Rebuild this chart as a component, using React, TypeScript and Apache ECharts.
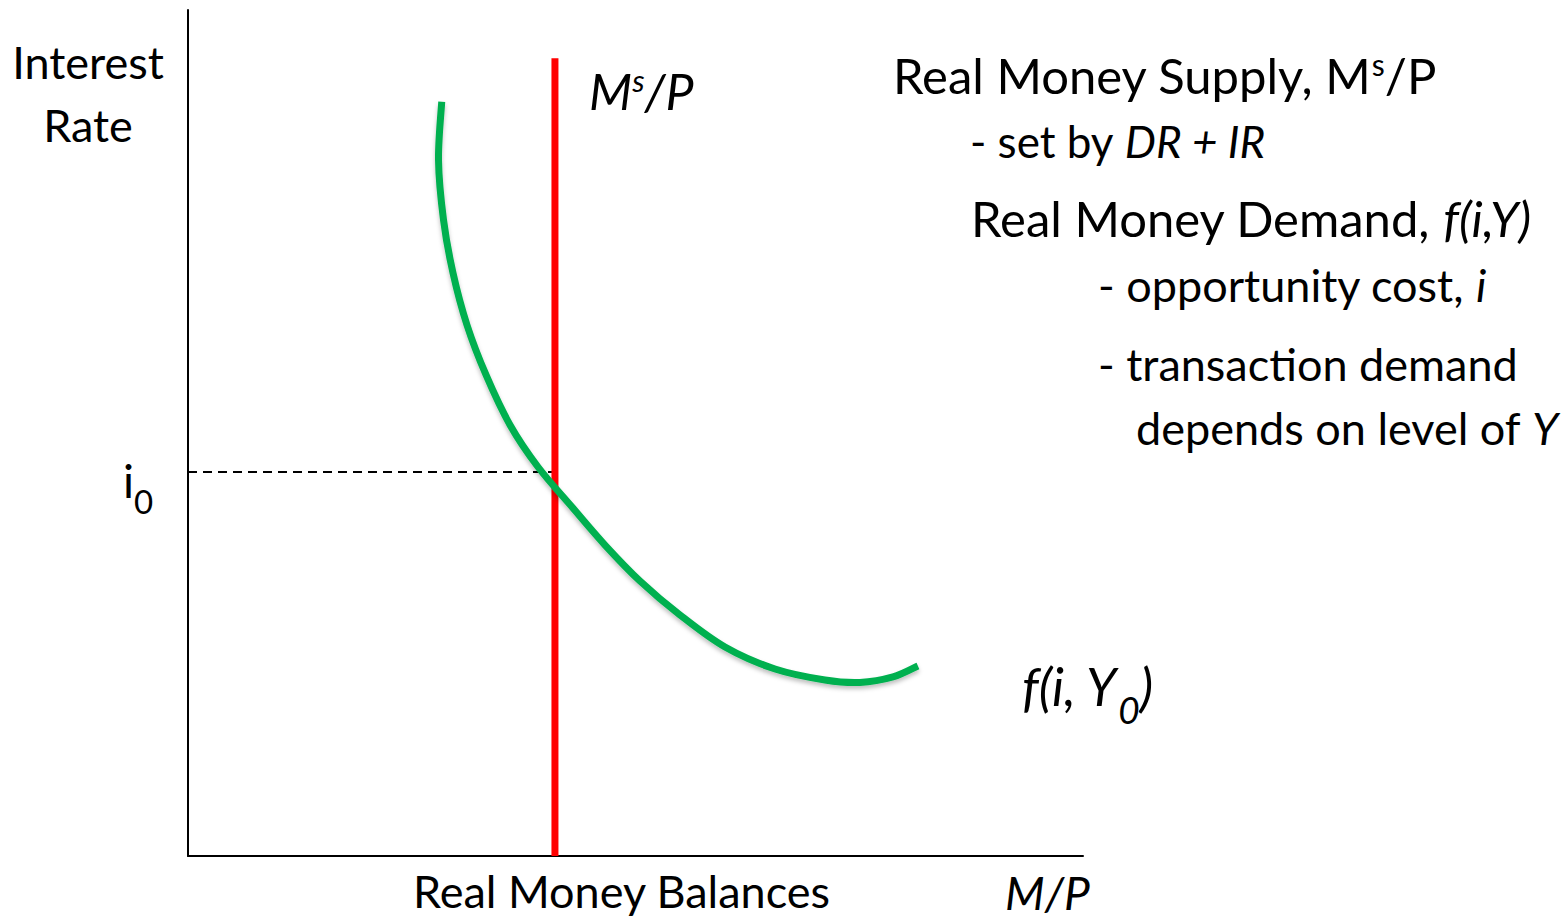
import React, { useEffect, useRef } from "react";
import * as echarts from "echarts";

// Money-market diagram data (x: real money balances, y: interest rate), axis range 0..100
const supplyX = [41, 41];
const supplyY = [0, 94.3];
const equilibriumRate = 45.4;
const equilibriumX = 41;
const demandX = [28.35, 27.99, 28.55, 29.61, 31.17, 33.3, 35.98, 39.11, 42.91, 46.59, 50.5, 54.97, 60.0, 65.59, 71.17, 75.08, 78.77, 81.56];
const demandY = [89.16, 82.27, 75.18, 68.91, 62.77, 56.86, 50.95, 45.98, 41.25, 36.76, 32.51, 28.49, 24.7, 22.1, 20.8, 20.51, 21.16, 22.46];

const FONT = "Lato, 'Open Sans', sans-serif";

function mkRich(fs: number) {
  const lh = Math.round(fs * 1.2);
  return {
    n: { fontFamily: FONT, fontSize: fs, lineHeight: lh, verticalAlign: "middle" },
    it: { fontFamily: FONT, fontSize: fs, fontStyle: "italic", lineHeight: lh, verticalAlign: "middle" },
    sup: { fontFamily: FONT, fontSize: Math.round(fs * 0.62), lineHeight: lh, verticalAlign: "top", padding: [Math.round(fs * 0.06), 0, 0, 0] },
    supit: { fontFamily: FONT, fontSize: Math.round(fs * 0.62), fontStyle: "italic", lineHeight: lh, verticalAlign: "top", padding: [Math.round(fs * 0.06), 0, 0, 0] },
    sub: { fontFamily: FONT, fontSize: Math.round(fs * 0.72), lineHeight: lh, verticalAlign: "bottom", padding: [0, 0, -Math.round(fs * 0.22), 0] },
    subit: { fontFamily: FONT, fontSize: Math.round(fs * 0.72), fontStyle: "italic", lineHeight: lh, verticalAlign: "bottom", padding: [0, 0, -Math.round(fs * 0.22), 0] },
  };
}

// Catmull-Rom path through pixel points (rendering only)
function smoothPath(pts: number[][]): string {
  if (pts.length < 2) return "";
  let d = `M${pts[0][0]},${pts[0][1]}`;
  for (let i = 0; i < pts.length - 1; i++) {
    const p0 = pts[i - 1] || pts[i];
    const p1 = pts[i];
    const p2 = pts[i + 1];
    const p3 = pts[i + 2] || p2;
    const c1x = p1[0] + (p2[0] - p0[0]) / 6;
    const c1y = p1[1] + (p2[1] - p0[1]) / 6;
    const c2x = p2[0] - (p3[0] - p1[0]) / 6;
    const c2y = p2[1] - (p3[1] - p1[1]) / 6;
    d += ` C${c1x},${c1y} ${c2x},${c2y} ${p2[0]},${p2[1]}`;
  }
  return d;
}

export default function App() {
  const ref = useRef<HTMLDivElement>(null);
  useEffect(() => {
    if (!ref.current) return;
    const chart = echarts.init(ref.current, null, { renderer: "svg" });
    const txt = (x: number, y: number, text: string, fs: number, extra: any = {}) => ({
      type: "text",
      x,
      y,
      style: {
        fontFamily: FONT,
        fontSize: fs,
        fill: "#000",
        verticalAlign: "middle",
        align: "left",
        text,
        rich: mkRich(fs),
        ...extra,
      },
    });
    const demandData = demandX.map((x, i) => [x, demandY[i]]);
    chart.setOption({
      animation: false,
      backgroundColor: "#fff",
      grid: { left: 188, top: 10, width: 895, height: 846 },
      xAxis: {
        type: "value",
        min: 0,
        max: 100,
        axisLine: { show: true, onZero: false, lineStyle: { color: "#000", width: 2 } },
        axisTick: { show: false },
        axisLabel: { show: false },
        splitLine: { show: false },
      },
      yAxis: {
        type: "value",
        min: 0,
        max: 100,
        axisLine: { show: true, onZero: false, lineStyle: { color: "#000", width: 2 } },
        axisTick: { show: false },
        axisLabel: { show: false },
        splitLine: { show: false },
      },
      series: [
        {
          type: "line",
          data: [[0, equilibriumRate], [equilibriumX, equilibriumRate]],
          symbol: "none",
          lineStyle: { color: "#000", width: 2, type: [9, 6] },
          z: 1,
        },
        {
          type: "line",
          data: supplyX.map((x, i) => [x, supplyY[i]]),
          symbol: "none",
          lineStyle: { color: "#FF0000", width: 7 },
          z: 2,
        },
        {
          type: "custom",
          data: demandData,
          encode: { x: 0, y: 1 },
          z: 3,
          renderItem: (params: any, api: any) => {
            if (params.dataIndex !== 0) return null;
            const pts = demandData.map((p) => api.coord(p));
            return {
              type: "path",
              shape: { pathData: smoothPath(pts) },
              style: {
                fill: "none",
                stroke: "#00B050",
                lineWidth: 7,
                shadowColor: "rgba(0,0,0,0.25)",
                shadowBlur: 4,
                shadowOffsetY: 3,
              },
            };
          },
        },
      ],
      graphic: [
        txt(88, 93, "Interest\nRate", 45, { align: "center", lineHeight: 63 }),
        txt(123, 480, "{n|i}{sub|0}", 46),
        txt(589, 91, "{it|M}{supit|s}{it|/P}", 50),
        txt(893, 75, "{n|Real Money Supply, M}{sup|s}{n|/P}", 49),
        txt(970, 141, "{n|- set by }{it|DR + IR}", 44),
        txt(971, 218, "{n|Real Money Demand, }{it|f(i,Y)}", 49),
        txt(1098, 285, "{n|- opportunity cost, }{it|i}", 45),
        txt(1098, 364, "- transaction demand", 45),
        txt(1136, 428, "{n|depends on level of }{it|Y}", 45),
        txt(1022, 686, "{it|f(i, Y}{subit|0}{it|)}", 52),
        txt(413, 891, "Real Money Balances", 45, { lineHeight: 44 }),
        txt(1005, 892, "M/P", 46, { fontStyle: "italic", lineHeight: 44, rich: undefined }),
      ],
    });
    return () => chart.dispose();
  }, []);
  return (
    <div
      ref={ref}
      style={{ position: "fixed", left: 0, top: 0, width: 1566, height: 920, background: "#fff" }}
    />
  );
}
